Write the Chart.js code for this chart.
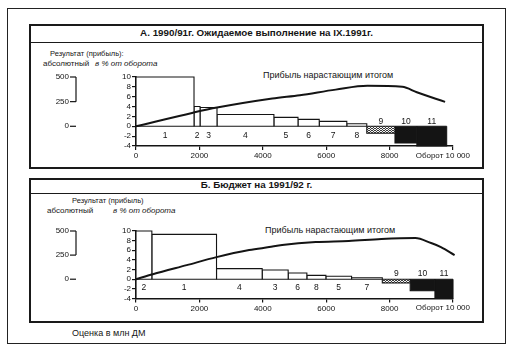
<!DOCTYPE html>
<html><head><meta charset="utf-8">
<script src="https://cdn.jsdelivr.net/npm/chart.js@4.4.1/dist/chart.umd.min.js"></script>
<style>
html,body{margin:0;padding:0;background:#fff;}
#page{position:relative;width:511px;height:356px;overflow:hidden;font-family:"Liberation Sans",Arial,sans-serif;color:#151515;-webkit-font-smoothing:antialiased;}
.frame{position:absolute;border:1.5px solid #222;box-sizing:border-box;}
.box{position:absolute;border:2px solid #1a1a1a;box-sizing:border-box;}
.hline{position:absolute;height:0;border-top:1.5px solid #1a1a1a;}
.t{position:absolute;white-space:nowrap;line-height:1;color:#151515;}
.title{font-weight:bold;font-size:9.8px;text-align:center;}
canvas{position:absolute;left:0;}
</style></head>
<body>
<div id="page">
  <div class="frame" style="left:7px;top:8px;width:499px;height:336px;"></div>

  <div class="box" style="left:29px;top:24px;width:455px;height:145px;"></div>
  <div class="hline" style="left:29px;top:42px;width:455px;"></div>
  <div class="t title" style="left:29px;top:28px;width:455px;">А. 1990/91г. Ожидаемое выполнение на IX.1991г.</div>
  <div class="t" style="left:50px;top:50px;font-size:7.5px;">Результат (прибыль):</div>
  <div class="t" style="left:43px;top:60px;font-size:8px;">абсолютный</div>
  <div class="t" style="left:95px;top:60px;font-size:8px;font-style:italic;">в % от оборота</div>
  <div class="t" style="left:263px;top:71px;font-size:9px;">Прибыль нарастающим итогом</div>

  <div class="box" style="left:29px;top:178px;width:455px;height:145px;"></div>
  <div class="hline" style="left:29px;top:193px;width:455px;"></div>
  <div class="t title" style="left:29px;top:180px;width:455px;">Б. Бюджет на 1991/92 г.</div>
  <div class="t" style="left:72px;top:197px;font-size:7.5px;">Результат (прибыль)</div>
  <div class="t" style="left:47px;top:207px;font-size:8px;">абсолютный</div>
  <div class="t" style="left:113px;top:207px;font-size:8px;font-style:italic;">в % от оборота</div>
  <div class="t" style="left:265px;top:226px;font-size:9px;">Прибыль нарастающим итогом</div>

  <div class="t" style="left:72px;top:329px;font-size:9px;">Оценка в млн ДМ</div>

  <canvas id="cA" width="511" height="124" style="top:44px;"></canvas>
  <canvas id="cB" width="511" height="128" style="top:194px;"></canvas>
</div>
<script>
// ---------- shared axes ----------
const X_TICKS = [0, 2000, 4000, 6000, 8000, 10000];
const X_TICK_LABELS = ['0', '2000', '4000', '6000', '8000', 'Оборот 10 000'];
const PCT_TICKS = [-4, -2, 0, 2, 4, 6, 8, 10];
const ABS_TICKS = [0, 250, 500];
const ABS_PER_PCT = 50; // 10 % of turnover <-> 500 on the absolute scale

// ---------- Panel A: 1990/91 ----------
const A_labels = ['1', '2', '3', '4', '5', '6', '7', '8', '9', '10', '11'];
const A_start  = [0, 1830, 2020, 2555, 4350, 5110, 5780, 6650, 7280, 8170, 8860];
const A_end    = [1830, 2020, 2555, 4350, 5110, 5780, 6650, 7280, 8170, 8860, 9800];
const A_pct    = [10, 4.0, 3.8, 2.4, 1.8, 1.4, 1.0, 0.5, -1.4, -3.4, -4.0];
const A_cumX   = [0, 1800, 2555, 4300, 5170, 6300, 7300, 8400, 8860, 9750];
const A_cumY   = [0, 138, 190, 282, 316, 372, 410, 400, 345, 248];
const A_hatched = ['9'];
const A_black   = ['10', '11'];

// ---------- Panel B: budget 1991/92 ----------
const B_labels = ['2', '1', '4', '3', '6', '8', '5', '7', '9', '10', '11'];
const B_start  = [0, 500, 2540, 3980, 4800, 5390, 5990, 6800, 7770, 8650, 9430];
const B_end    = [500, 2540, 3980, 4800, 5390, 5990, 6800, 7770, 8650, 9430, 10000];
const B_pct    = [10, 9.3, 2.2, 1.9, 1.3, 0.8, 0.6, 0.3, -0.8, -2.4, -4.0];
const B_cumX   = [0, 530, 1600, 2540, 3570, 4200, 4610, 5670, 6710, 7740, 8810, 9310, 9620, 10050];
const B_cumY   = [0, 52, 146, 229, 302, 333, 354, 385, 396, 417, 427, 375, 333, 250];
const B_hatched = ['9'];
const B_black   = ['10', '11'];

const INK = '#141414';
const FONT = '"Liberation Sans", Arial, sans-serif';

function makePattern() {
  const c = document.createElement('canvas');
  c.width = 3; c.height = 2;
  const g = c.getContext('2d');
  g.fillStyle = '#f4f4f4'; g.fillRect(0, 0, 3, 2);
  g.fillStyle = '#3a3a3a';
  g.fillRect(0, 0, 1, 1); g.fillRect(2, 0, 1, 1); g.fillRect(1, 1, 1, 1);
  return g.createPattern(c, 'repeat');
}
const HATCH = makePattern();

function buildPanel(id, p) {
  const datasets = [];
  p.labels.forEach((lab, i) => {
    let fill = '#ffffff';
    if (p.hatched.includes(lab)) fill = HATCH;
    if (p.black.includes(lab)) fill = INK;
    datasets.push({
      type: 'line',
      yAxisID: 'y',
      order: 2,
      data: [
        {x: p.start[i], y: 0}, {x: p.start[i], y: p.pct[i]},
        {x: p.end[i], y: p.pct[i]}, {x: p.end[i], y: 0}
      ],
      borderColor: INK, borderWidth: 1.1, backgroundColor: fill,
      fill: {target: 'origin', above: fill, below: fill},
      pointRadius: 0, tension: 0, clip: false
    });
  });
  // zero baseline under the bars
  datasets.push({
    type: 'line', yAxisID: 'y', order: 1,
    data: [{x: p.start[0], y: 0}, {x: p.end[p.end.length - 1], y: 0}],
    borderColor: INK, borderWidth: 1.1, fill: false, pointRadius: 0
  });
  // cumulative profit line
  datasets.push({
    type: 'line',
    yAxisID: 'yAbs', order: 0,
    data: p.cumX.map((x, i) => ({x: x, y: p.cumY[i]})),
    borderColor: INK, borderWidth: 2, fill: false, pointRadius: 0,
    cubicInterpolationMode: 'monotone', clip: false
  });

  const extras = {
    id: 'extras' + id,
    afterDraw(chart) {
      const ctx = chart.ctx, xs = chart.scales.x, ys = chart.scales.y, ya = chart.scales.yAbs;
      ctx.save();
      ctx.fillStyle = INK; ctx.strokeStyle = INK;
      ctx.font = '8.5px ' + FONT;
      ctx.textAlign = 'center'; ctx.textBaseline = 'middle';
      p.labels.forEach((lab, i) => {
        const mx = (p.start[i] + p.end[i]) / 2;
        const lv = p.pct[i] >= 0 ? p.labelBelow : p.labelAbove;
        ctx.fillText(lab, xs.getPixelForValue(mx), ys.getPixelForValue(lv));
      });
      // absolute-value axis
      const axX = chart.chartArea.left - 60;
      ctx.font = '8px ' + FONT;
      ctx.textAlign = 'right';
      ctx.lineWidth = 1.2;
      ABS_TICKS.forEach(v => {
        const py = ya.getPixelForValue(v);
        ctx.fillText(String(v), axX - 7, py);
        ctx.beginPath(); ctx.moveTo(axX - 6, py); ctx.lineTo(axX, py); ctx.stroke();
      });
      ctx.beginPath();
      ctx.moveTo(axX, ya.getPixelForValue(ABS_TICKS[2]));
      ctx.lineTo(axX, ya.getPixelForValue(ABS_TICKS[1]));
      ctx.stroke();
      // last x label with axis name
      ctx.textAlign = 'right';
      ctx.fillText(X_TICK_LABELS[X_TICK_LABELS.length - 1],
        xs.getPixelForValue(X_TICKS[X_TICKS.length - 1]) + 17, chart.chartArea.bottom + 9.5);
      ctx.restore();
    }
  };

  return new Chart(document.getElementById(id), {
    type: 'line',
    data: {datasets},
    options: {
      responsive: false, animation: false, devicePixelRatio: 1,
      layout: {padding: p.padding},
      plugins: {legend: {display: false}, tooltip: {enabled: false}},
      scales: {
        x: {
          type: 'linear', min: 0, max: 10000,
          afterBuildTicks: s => { s.ticks = X_TICKS.map(v => ({value: v})); },
          afterFit: s => { s.height = 16; },
          grid: {drawOnChartArea: false, drawTicks: true, tickLength: 4, color: INK, lineWidth: 1.2},
          border: {display: true, color: INK, width: 1.6},
          ticks: {
            padding: 1, color: INK, font: {size: 8, family: FONT}, maxRotation: 0, autoSkip: false,
            callback: (v, i) => (i === X_TICKS.length - 1 ? '' : X_TICK_LABELS[i])
          }
        },
        y: {
          type: 'linear', position: 'left', min: PCT_TICKS[0], max: PCT_TICKS[PCT_TICKS.length - 1],
          afterBuildTicks: s => { s.ticks = PCT_TICKS.map(v => ({value: v})); },
          afterFit: s => { s.width = 20; },
          grid: {drawOnChartArea: false, drawTicks: true, tickLength: 4, color: INK, lineWidth: 1.2},
          border: {display: true, color: INK, width: 1.6},
          ticks: {padding: 1, color: INK, font: {size: 8, family: FONT}, autoSkip: false, callback: v => String(v)}
        },
        yAbs: {
          type: 'linear', display: false,
          min: PCT_TICKS[0] * ABS_PER_PCT, max: PCT_TICKS[PCT_TICKS.length - 1] * ABS_PER_PCT
        }
      }
    },
    plugins: [extras]
  });
}

buildPanel('cA', {
  labels: A_labels, start: A_start, end: A_end, pct: A_pct,
  cumX: A_cumX, cumY: A_cumY, hatched: A_hatched, black: A_black,
  labelBelow: -2, labelAbove: 0.9,
  padding: {left: 116, right: 58, top: 33, bottom: 6}
});
buildPanel('cB', {
  labels: B_labels, start: B_start, end: B_end, pct: B_pct,
  cumX: B_cumX, cumY: B_cumY, hatched: B_hatched, black: B_black,
  labelBelow: -1.7, labelAbove: 1.25,
  padding: {left: 116, right: 58, top: 37, bottom: 7.5}
});
</script>
</body></html>
